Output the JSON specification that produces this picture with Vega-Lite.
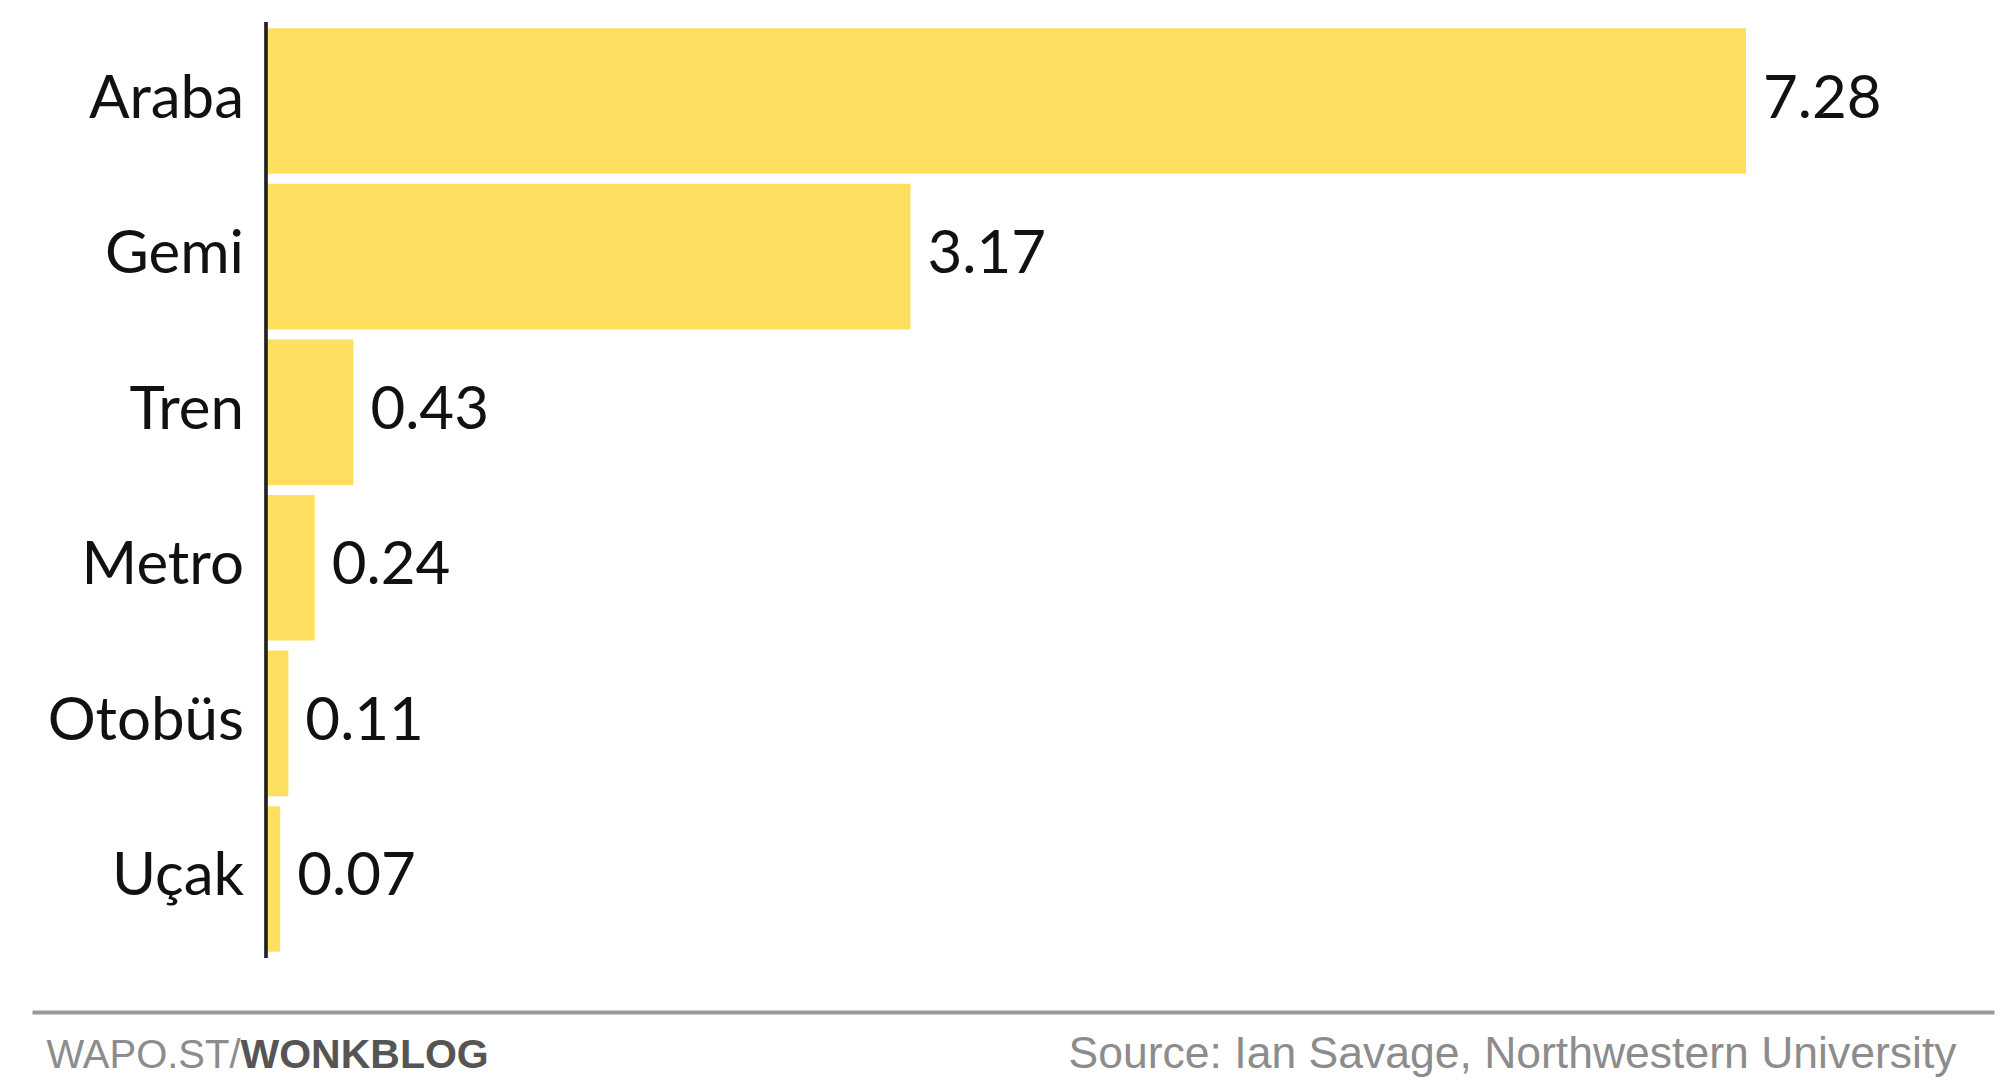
{
  "$schema": "https://vega.github.io/schema/vega-lite/v6.json",
  "width": 1962,
  "height": 936,
  "autosize": "none",
  "padding": {"left": 32, "top": 22, "right": 6, "bottom": 130},
  "background": "white",
  "config": {"view": {"stroke": null}},
  "data": {
    "values": [
      {"mode": "Araba", "value": 7.28},
      {"mode": "Gemi", "value": 3.17},
      {"mode": "Tren", "value": 0.43},
      {"mode": "Metro", "value": 0.24},
      {"mode": "Otobüs", "value": 0.11},
      {"mode": "Uçak", "value": 0.07}
    ]
  },
  "layer": [
    {
      "mark": {"type": "bar", "color": "#FEDF5F"},
      "encoding": {
        "y": {
          "field": "mode",
          "type": "nominal",
          "sort": null,
          "scale": {"paddingInner": 0.064, "paddingOuter": 0.04},
          "axis": {
            "domain": false,
            "ticks": false,
            "labels": false,
            "grid": false,
            "title": "WAPO.ST/",
            "titleAngle": 0,
            "titleX": 14,
            "titleY": 1045,
            "titleAlign": "left",
            "titleBaseline": "alphabetic",
            "titleFont": "Liberation Sans",
            "titleFontSize": 40,
            "titleFontWeight": "normal",
            "titleColor": "#8c8c8c"
          }
        },
        "x": {
          "field": "value",
          "type": "quantitative",
          "scale": {"domain": [-1.151, 8.5], "nice": false, "zero": false},
          "axis": {
            "orient": "bottom",
            "offset": 54,
            "domainColor": "#9a9a9a",
            "domainWidth": 4,
            "ticks": false,
            "labels": false,
            "grid": false,
            "title": "Source: Ian Savage, Northwestern University",
            "titleX": 1924,
            "titleY": 55,
            "titleAlign": "right",
            "titleBaseline": "alphabetic",
            "titleFont": "Liberation Sans",
            "titleFontSize": 44.5,
            "titleFontWeight": "normal",
            "titleColor": "#8c8c8c"
          }
        }
      }
    },
    {
      "mark": {"type": "rule", "color": "#222222", "strokeWidth": 2.5},
      "encoding": {"x": {"datum": 0, "type": "quantitative", "axis": null}}
    },
    {
      "mark": {
        "type": "text",
        "align": "right",
        "baseline": "alphabetic",
        "dx": -22,
        "dy": 16.5,
        "font": "Lato",
        "fontSize": 60,
        "color": "#111111"
      },
      "encoding": {
        "y": {"field": "mode", "type": "nominal", "sort": null},
        "x": {"datum": 0, "type": "quantitative", "axis": null},
        "text": {"field": "mode"}
      }
    },
    {
      "mark": {
        "type": "text",
        "align": "left",
        "baseline": "alphabetic",
        "dx": 17,
        "dy": 16.5,
        "font": "Lato",
        "fontSize": 60,
        "color": "#111111"
      },
      "encoding": {
        "y": {"field": "mode", "type": "nominal", "sort": null},
        "x": {
          "field": "value",
          "type": "quantitative",
          "axis": {
            "orient": "top",
            "domain": false,
            "ticks": false,
            "labels": false,
            "grid": false,
            "title": "WONKBLOG",
            "titleX": 208,
            "titleY": 1045,
            "titleAlign": "left",
            "titleBaseline": "alphabetic",
            "titleFont": "Liberation Sans",
            "titleFontSize": 41,
            "titleFontWeight": "bold",
            "titleColor": "#555555"
          }
        },
        "text": {"field": "value", "type": "quantitative", "format": ".2f"}
      }
    }
  ],
  "resolve": {"axis": {"x": "independent"}}
}
